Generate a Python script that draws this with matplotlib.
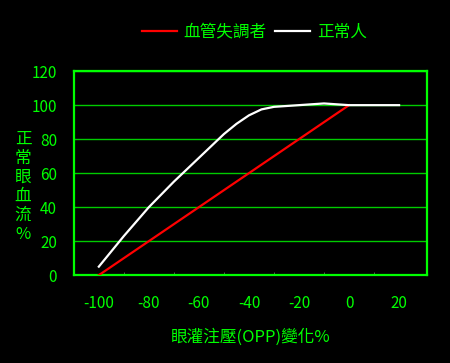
import matplotlib.pyplot as plt

plt.rcParams['font.family'] = ['Noto Sans CJK TC', 'DejaVu Sans']
plt.rcParams['axes.unicode_minus'] = False

opp_change = [-100, -90, -80, -70, -60, -50, -45, -40, -35, -30, -20, -10, 0, 10, 20]
normal = [5, 23, 40, 55, 69, 83, 89, 94, 97.5, 99, 100, 101, 100, 100, 100]
disorder_x = [-100, 0]
disorder_y = [0, 100]

green = '#00ff00'
grid_green = '#00cc00'

fig = plt.figure(figsize=(4.5, 3.63), dpi=100, facecolor='black')
ax = fig.add_axes([0.164, 0.242, 0.784, 0.562], facecolor='black')

ax.plot(disorder_x, disorder_y, color='#ff0000', lw=1.6, label='血管失調者', zorder=3)
ax.plot(opp_change, normal, color='white', lw=1.6, label='正常人', zorder=3)

ax.set_xlim(-110, 31)
ax.set_ylim(0, 120)
ax.set_xticks(range(-100, 21, 20))
ax.set_yticks(range(0, 121, 20))
ax.set_xticks(range(-90, 20, 20), minor=True)
ax.yaxis.grid(True, color=grid_green, lw=1.0)
ax.set_axisbelow(True)

for s in ax.spines.values():
    s.set_color(green)
    s.set_linewidth(1.6)

ax.tick_params(axis='x', which='major', length=0, pad=14, colors=green, labelsize=11)
ax.tick_params(axis='x', which='minor', direction='in', length=2, color='#666666')
ax.tick_params(axis='y', length=0, pad=12, colors=green, labelsize=11)

ax.set_xlabel('眼灌注壓(OPP)變化%', color=green, fontsize=12, labelpad=12)
fig.text(0.051, 0.485, '正\n常\n眼\n血\n流\n%', color=green, fontsize=12,
         ha='center', va='center', linespacing=1.15)

leg = fig.legend(loc='center', bbox_to_anchor=(0.565, 0.912), ncol=2, frameon=False,
                 fontsize=12, handlelength=2.1, columnspacing=0.5, handletextpad=0.4)
for t in leg.get_texts():
    t.set_color(green)

fig.savefig('out.png', dpi=100, facecolor='black')
